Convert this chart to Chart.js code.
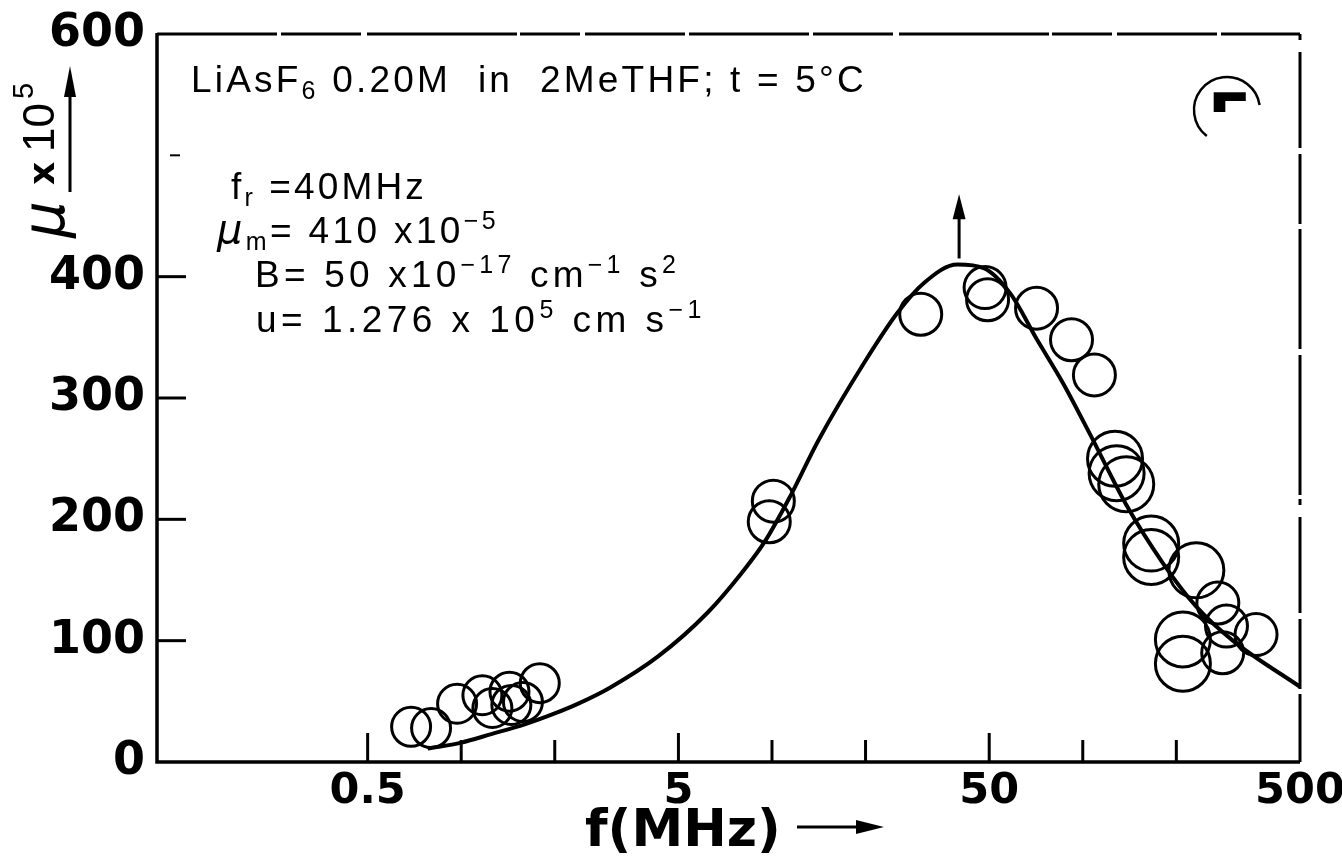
<!DOCTYPE html>
<html>
<head>
<meta charset="utf-8">
<script src="https://cdn.jsdelivr.net/npm/chart.js@4.4.1/dist/chart.umd.min.js"></script>
<style>
  html, body { margin: 0; padding: 0; background: #fff; }
  #wrap { width: 1342px; height: 860px; position: relative; }
</style>
</head>
<body>
<div id="wrap"><canvas id="c"></canvas></div>
<script>
// ---- axis ticks ----
const freqTicks = [0.5, 1, 2, 5, 10, 20, 50, 100, 200, 500];
const freqLabels = ['0.5', '5', '50', '500'];
const muTicks = [0, 100, 200, 300, 400, 500, 600];
const muLabels = ['0', '100', '200', '300', '400', '', '600'];

// ---- fitted curve ----
const curveF  = [0.78, 1.0, 1.25, 1.6, 2.0, 2.4, 3.0, 4.3, 6.2, 8.0, 9.5, 11.5, 14.1, 19.8, 25.3, 30.9, 39.5, 48, 58.5, 71.3, 86.5, 105.6, 138, 181, 232, 304, 500];
const curveMu = [11, 16, 23, 31, 40, 48.5, 61, 87, 123, 156, 182, 220, 265, 329, 370, 395, 410, 407, 386, 348, 312, 270, 212, 164, 128, 100, 62];

// ---- measured points ----
const pointF  = [0.69, 0.80, 0.97, 1.17, 1.26, 1.43, 1.45, 1.58, 1.79, 9.8, 10.1, 30.1, 48.5, 49.4, 71, 92, 109, 127, 128.5, 138, 166, 166, 232, 272, 290, 210, 210, 282, 361];
const pointMu = [29, 28, 48, 55, 44.5, 58, 47, 49.5, 65, 198, 215, 369, 391, 381, 374, 348, 319, 250, 238, 229, 180, 169, 158, 131, 112, 101, 81, 90, 105];

// ---- annotation values ----
const resonanceF = 40;          // f_r = 40 MHz
const arrowMu = [415, 468];     // arrow from/to (mu units)

function richText(ctx, x, y, segs, targetW) {
  ctx.save();
  ctx.textAlign = 'left';
  ctx.textBaseline = 'alphabetic';
  ctx.fillStyle = '#000';
  const hasLS = ('letterSpacing' in ctx);
  if (hasLS) ctx.letterSpacing = '0px';
  let natural = 0, n = 0;
  const widths = segs.map(s => { ctx.font = s[1]; const w = ctx.measureText(s[0]).width; natural += w; n += [...s[0]].length; return w; });
  let sp = 0, sx = 1;
  if (targetW) {
    if (hasLS) sp = (targetW - natural) / n; else sx = targetW / natural;
  }
  ctx.translate(x, y);
  ctx.scale(sx, 1);
  let cx = 0;
  segs.forEach((s, i) => {
    ctx.font = s[1];
    if (hasLS) ctx.letterSpacing = sp + 'px';
    ctx.fillText(s[0], cx, s[2] || 0);
    cx += widths[i] + sp * [...s[0]].length;
  });
  ctx.restore();
}

const F = '"Liberation Sans", Arial, sans-serif';
const main = '37px ' + F;
const small = '25px ' + F;

const decor = {
  id: 'decor',
  afterDatasetsDraw(chart) {
    const { ctx, chartArea: a, scales: { x, y } } = chart;
    ctx.save();
    ctx.strokeStyle = '#000';
    ctx.fillStyle = '#000';
    ctx.lineCap = 'butt';
    // left & bottom axes
    ctx.lineWidth = 3.5;
    ctx.beginPath(); ctx.moveTo(a.left, a.top - 1); ctx.lineTo(a.left, a.bottom); ctx.lineTo(a.right, a.bottom); ctx.stroke();
    // top border (broken)
    ctx.lineWidth = 3;
    ctx.setLineDash([120, 4, 80, 6, 150, 3, 60, 5, 100, 4]);
    ctx.beginPath(); ctx.moveTo(a.left, a.top); ctx.lineTo(a.right, a.top); ctx.stroke();
    // right border (broken)
    ctx.setLineDash([6, 12, 96, 6, 70, 5, 120, 6, 140, 4]);
    ctx.beginPath(); ctx.moveTo(a.right, a.top); ctx.lineTo(a.right, a.bottom); ctx.stroke();
    ctx.setLineDash([]);
    // y ticks (inward)
    ctx.lineWidth = 3;
    [100, 200, 300, 400].forEach(v => {
      const py = y.getPixelForValue(v);
      ctx.beginPath(); ctx.moveTo(a.left, py); ctx.lineTo(a.left + 29, py); ctx.stroke();
    });
    ctx.lineWidth = 2;
    { const py = y.getPixelForValue(500); ctx.beginPath(); ctx.moveTo(a.left + 13, py); ctx.lineTo(a.left + 23, py); ctx.stroke(); }
    // x ticks (inward)
    ctx.lineWidth = 3;
    freqTicks.forEach(v => {
      if (v >= 500) return;
      const px = x.getPixelForValue(v);
      const len = freqLabels.includes(String(v)) ? 29 : 22;
      ctx.beginPath(); ctx.moveTo(px, a.bottom); ctx.lineTo(px, a.bottom - len); ctx.stroke();
    });
    // arrow at resonance
    {
      const px = x.getPixelForValue(resonanceF);
      const y0 = y.getPixelForValue(arrowMu[0]);
      const y1 = y.getPixelForValue(arrowMu[1]);
      ctx.lineWidth = 3;
      ctx.beginPath(); ctx.moveTo(px, y0); ctx.lineTo(px, y1 + 20); ctx.stroke();
      ctx.beginPath(); ctx.moveTo(px, y1); ctx.lineTo(px - 6.5, y1 + 25); ctx.lineTo(px + 6.5, y1 + 25); ctx.closePath(); ctx.fill();
    }
    // circled panel mark
    {
      const cx = a.right - 73, cy = a.top + 76;
      ctx.lineWidth = 2.5;
      ctx.beginPath(); ctx.arc(cx, cy, 33, 2.23, 6.13); ctx.stroke();
      ctx.save();
      ctx.beginPath(); ctx.rect(cx - 30, cy - 30, 60, 32); ctx.clip();
      ctx.font = 'bold 62px "DejaVu Sans"';
      ctx.textBaseline = 'alphabetic';
      ctx.fillText('Γ', cx - 19, cy + 28);
      ctx.restore();
    }
    ctx.restore();

    // ---- text annotations ----
    const L = a.left, T = a.top;
    richText(ctx, L + 34, T + 58, [['LiAsF', main], ['6', small, 7], [' 0.20M  in  2MeTHF; t = 5°C', main]], 676);
    richText(ctx, L + 74, T + 165, [['f', main], ['r', small, 7], [' =40MHz', main]], 196);
    richText(ctx, L + 60, T + 209, [['μ', 'italic 40px "DejaVu Sans"'], ['m', small, 7], ['= 410 x10', main], ['−5', small, -14]], 282);
    richText(ctx, L + 98, T + 253, [['B= 50 x10', main], ['−17', small, -14], [' cm', main], ['−1', small, -14], [' s', main], ['2', small, -14]], 425);
    richText(ctx, L + 99, T + 298, [['u= 1.276 x 10', main], ['5', small, -14], [' cm s', main], ['−1', small, -14]], 450);

    // ---- y axis title (rotated) ----
    ctx.save();
    ctx.fillStyle = '#000';
    ctx.textAlign = 'left';
    ctx.textBaseline = 'alphabetic';
    const rot = (tx, ty, str, font) => {
      ctx.save(); ctx.translate(tx, ty); ctx.rotate(-Math.PI / 2); ctx.font = font; ctx.fillText(str, 0, 0); ctx.restore();
    };
    rot(64, 238, 'μ', 'italic 58px "DejaVu Sans"');
    rot(54, 185, 'x', 'bold 36px "DejaVu Sans"');
    rot(54, 152, '10', '44px ' + F);
    rot(33, 99, '5', '29px ' + F);
    // arrow
    ctx.strokeStyle = '#000';
    ctx.lineWidth = 3;
    ctx.beginPath(); ctx.moveTo(70, 192); ctx.lineTo(70, 92); ctx.stroke();
    ctx.beginPath(); ctx.moveTo(70, 66); ctx.lineTo(64, 97); ctx.lineTo(76, 97); ctx.closePath(); ctx.fill();
    ctx.restore();

    // ---- x axis title ----
    ctx.save();
    ctx.fillStyle = '#000';
    ctx.strokeStyle = '#000';
    ctx.font = 'bold 52px "DejaVu Sans"';
    ctx.textAlign = 'left';
    ctx.textBaseline = 'alphabetic';
    ctx.fillText('f(MHz)', 585, 846);
    ctx.lineWidth = 3;
    ctx.beginPath(); ctx.moveTo(797, 827); ctx.lineTo(862, 827); ctx.stroke();
    ctx.beginPath(); ctx.moveTo(884, 827); ctx.lineTo(856, 820); ctx.lineTo(856, 834); ctx.closePath(); ctx.fill();
    ctx.restore();
  }
};

new Chart(document.getElementById('c'), {
  type: 'scatter',
  data: {
    datasets: [
      {
        label: 'fit',
        data: curveF.map((f, i) => ({ x: f, y: curveMu[i] })),
        showLine: true,
        borderColor: '#000',
        borderWidth: 4,
        pointRadius: 0,
        cubicInterpolationMode: 'monotone',
        fill: false
      },
      {
        label: 'measured',
        data: pointF.map((f, i) => ({ x: f, y: pointMu[i] })),
        showLine: false,
        pointStyle: 'circle',
        pointRadius: c => { const f = c.raw ? c.raw.x : 1; return (f > 115 && f < 250) ? 27.5 : (f < 3 ? 19.5 : 21); },
        pointBorderWidth: 3,
        pointBackgroundColor: 'rgba(0,0,0,0)',
        pointBorderColor: '#000'
      }
    ]
  },
  options: {
    responsive: true,
    maintainAspectRatio: false,
    animation: false,
    events: [],
    layout: { padding: { top: 34, right: 42, left: 0, bottom: 0 } },
    plugins: { legend: { display: false }, tooltip: { enabled: false } },
    scales: {
      x: {
        type: 'logarithmic',
        min: 0.105,
        max: 500,
        grid: { display: false, drawTicks: false },
        border: { display: false },
        afterBuildTicks: s => { s.ticks = freqTicks.map(v => ({ value: v })); },
        ticks: {
          autoSkip: false, maxRotation: 0, minRotation: 0, padding: 4, color: '#000',
          font: { family: '"DejaVu Sans"', weight: 'bold', size: 43 },
          callback: v => freqLabels.includes(String(v)) ? String(v) : ''
        },
        afterFit: s => { s.height = 98; s.paddingLeft = 0; s.paddingRight = 0; }
      },
      y: {
        min: 0,
        max: 600,
        grid: { display: false, drawTicks: false },
        border: { display: false },
        afterBuildTicks: s => { s.ticks = muTicks.map(v => ({ value: v })); },
        ticks: {
          padding: 12, color: '#000',
          font: { family: '"DejaVu Sans"', weight: 'bold', size: 46 },
          callback: (v, i) => muLabels[i]
        },
        afterFit: s => { s.width = 157; s.paddingTop = 0; s.paddingBottom = 0; }
      }
    }
  },
  plugins: [decor]
});
</script>
</body>
</html>
